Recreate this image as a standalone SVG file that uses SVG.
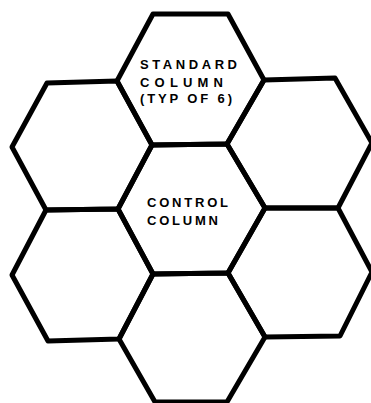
<svg xmlns="http://www.w3.org/2000/svg" width="371" height="403" viewBox="0 0 371 403">
<style>
.hex{fill:none;stroke:#000;stroke-width:5;stroke-linejoin:round;stroke-linecap:round}
.lbl{font-family:"Liberation Sans",Arial,sans-serif;font-weight:bold;font-size:13px;fill:#000}
</style>
<rect width="371" height="403" fill="#fff"/>
<g id="hex-top">
<polygon class="hex" points="153,14 228,14 264,80 227,144 152,145 117,81"/>
<text class="lbl" x="140" y="69" textLength="97" lengthAdjust="spacing">STANDARD</text>
<text class="lbl" x="140" y="86.5" textLength="83" lengthAdjust="spacing">COLUMN</text>
<text class="lbl" x="140" y="102.5" textLength="92" lengthAdjust="spacing">(TYP  OF 6)</text>
</g>
<g id="hex-center">
<polygon class="hex" points="152,145 227,144 265,208 228,273 153,274 118,209"/>
<text class="lbl" x="147" y="207" textLength="81" lengthAdjust="spacing">CONTROL</text>
<text class="lbl" x="147" y="225" textLength="71" lengthAdjust="spacing">COLUMN</text>
</g>
<g id="hex-bottom">
<polygon class="hex" points="153,274 228,273 265,337 227,402 155,402 119,339"/>
</g>
<g id="hex-left-upper">
<polygon class="hex" points="47,83 117,81 152,145 118,209 46,210 12,147"/>
</g>
<g id="hex-left-lower">
<polygon class="hex" points="46,210 118,209 153,274 119,339 48,341 12,275"/>
</g>
<g id="hex-right-upper">
<polygon class="hex" points="264,80 335,78 372,143 338,208 265,208 227,144"/>
</g>
<g id="hex-right-lower">
<polygon class="hex" points="265,208 338,208 372,272 340,336 265,337 228,273"/>
</g>
<g id="connectors"></g>
</svg>
